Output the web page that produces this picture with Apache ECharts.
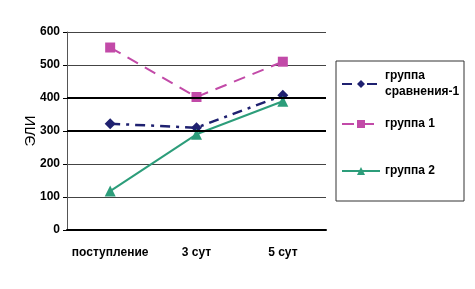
<!DOCTYPE html>
<html>
<head>
<meta charset="utf-8">
<script src="https://cdn.jsdelivr.net/npm/echarts@6/dist/echarts.min.js"></script>
<style>
  html, body { margin: 0; padding: 0; background: #fff; }
  #chart { width: 475px; height: 289px; }
</style>
</head>
<body>
<div id="chart"></div>
<script>
const categories = ['поступление', '3 сут', '5 сут']
const compareGroup = [322, 310, 408]
const group1 = [553, 403, 510]
const group2 = [118, 290, 390]
const yTicks = [0, 100, 200, 300, 400, 500, 600]
const boldLines = [300, 400]

const font = 'Liberation Sans, Arial, sans-serif'

const chart = echarts.init(document.getElementById('chart'))

const legendText = { fontFamily: font, fontWeight: 'bold', fontSize: 12, color: '#000', lineHeight: 16 }

const legendBase = { left: 341, padding: 0, itemWidth: 38, itemHeight: 10, itemGap: 5, textStyle: legendText }

const option = {
  animation: false,
  backgroundColor: '#fff',
  grid: { left: 67, right: 149, top: 32, bottom: 59 },
  graphic: [{
    type: 'rect',
    shape: { x: 336, y: 61, width: 128, height: 140 },
    style: { fill: '#fff', stroke: '#333', lineWidth: 1 },
    z: -1
  }],
  legend: [
    { ...legendBase, data: ['группа сравнения-1'], top: 68, formatter: () => 'группа\nсравнения-1' },
    { ...legendBase, data: ['группа 1'], top: 116 },
    { ...legendBase, data: ['группа 2'], top: 163 }
  ],
  xAxis: {
    type: 'category',
    data: categories,
    axisLine: { lineStyle: { color: '#000', width: 2 } },
    axisTick: { length: 4, lineStyle: { color: '#000' } },
    axisLabel: { interval: 0, fontFamily: font, fontWeight: 'bold', fontSize: 12, color: '#000', margin: 17 }
  },
  yAxis: {
    type: 'value',
    min: yTicks[0],
    max: yTicks[yTicks.length - 1],
    interval: 100,
    name: 'ЭЛИ',
    nameLocation: 'middle',
    nameRotate: 90,
    nameGap: 29,
    nameMoveOverlap: false,
    nameTextStyle: { fontFamily: font, fontSize: 15, color: '#000' },
    axisLine: { show: true, lineStyle: { color: '#555' } },
    axisTick: { show: true, length: 4, lineStyle: { color: '#000' } },
    axisLabel: { fontFamily: font, fontWeight: 'bold', fontSize: 12, color: '#000', margin: 7 },
    splitLine: { lineStyle: { color: '#444', width: 1 } }
  },
  series: [
    {
      name: 'группа сравнения-1',
      type: 'line',
      data: compareGroup,
      symbol: 'diamond',
      symbolSize: 11,
      color: '#1f2170',
      lineStyle: { width: 2.5, type: [10, 6, 3, 6] },
      markLine: {
        silent: true,
        symbol: 'none',
        label: { show: false },
        lineStyle: { color: '#000', width: 2, type: 'solid' },
        data: boldLines.map((v) => ({ yAxis: v }))
      },
      z: 3
    },
    {
      name: 'группа 1',
      type: 'line',
      data: group1,
      symbol: 'rect',
      symbolSize: 10,
      color: '#c24aa8',
      lineStyle: { width: 2, type: [12, 8] },
      z: 3
    },
    {
      name: 'группа 2',
      type: 'line',
      data: group2,
      symbol: 'triangle',
      symbolSize: 11,
      color: '#2c9d7a',
      lineStyle: { width: 2, type: 'solid' },
      z: 3
    }
  ]
}

chart.setOption(option)
</script>
</body>
</html>
